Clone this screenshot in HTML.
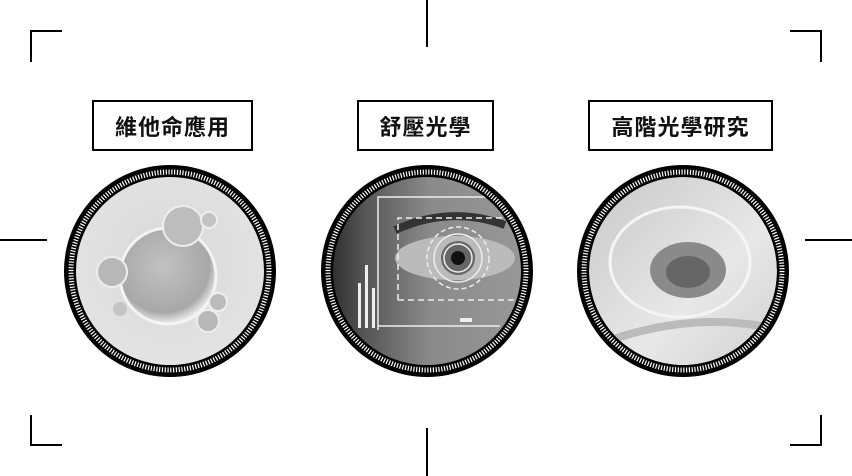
<!DOCTYPE html>
<html><head><meta charset="utf-8"><style>
html,body{margin:0;padding:0;background:#fff;}
body{width:852px;height:476px;overflow:hidden;position:relative;font-family:"Liberation Sans","Noto Sans CJK TC",sans-serif;}
.box{position:absolute;top:100px;height:47px;border:2px solid #000;box-sizing:content-box;display:flex;align-items:center;justify-content:center;font-weight:bold;font-size:22px;letter-spacing:1px;color:#111;}
</style></head><body>
<svg width="852" height="476" style="position:absolute;left:0;top:0">
<defs>
<radialGradient id="g1" cx="50%" cy="45%" r="60%"><stop offset="0" stop-color="#d8d8d8"/><stop offset="1" stop-color="#e4e4e4"/></radialGradient>
<radialGradient id="b1" cx="45%" cy="40%" r="60%"><stop offset="0" stop-color="#c2c2c2"/><stop offset="0.8" stop-color="#a8a8a8"/><stop offset="1" stop-color="#eee"/></radialGradient>
<linearGradient id="g2" x1="0" x2="1"><stop offset="0" stop-color="#222"/><stop offset="0.2" stop-color="#555"/><stop offset="0.5" stop-color="#8a8a8a"/><stop offset="1" stop-color="#9a9a9a"/></linearGradient>
<linearGradient id="g3" x1="0" y1="0" x2="1" y2="1"><stop offset="0" stop-color="#c8c8c8"/><stop offset="0.6" stop-color="#e8e8e8"/><stop offset="1" stop-color="#d0d0d0"/></linearGradient>
<clipPath id="c2"><circle cx="427" cy="271" r="94"/></clipPath>
<clipPath id="c3"><circle cx="683" cy="271" r="94"/></clipPath>
</defs>
<g stroke="#000" stroke-width="2" fill="none">
<path d="M31 62V31H62"/><path d="M31 415V445H62"/><path d="M790 31H821V62"/><path d="M790 445H821V415"/>
<path d="M427 0V47"/><path d="M427 428V476"/><path d="M0 240H47"/><path d="M805 240H852"/>
</g>
<!-- circle 1 -->
<circle cx="170" cy="271" r="106" fill="#000"/>
<circle cx="170" cy="271" r="99" fill="none" stroke="#fff" stroke-width="5" stroke-dasharray="1.2 1.6"/>
<circle cx="170" cy="271" r="94" fill="url(#g1)"/>
<circle cx="168" cy="276" r="48" fill="url(#b1)" stroke="#f4f4f4" stroke-width="3"/>
<circle cx="183" cy="226" r="20" fill="#bdbdbd" stroke="#eee" stroke-width="2"/>
<circle cx="112" cy="272" r="15" fill="#b8b8b8" stroke="#eee" stroke-width="2"/>
<circle cx="209" cy="220" r="8" fill="#c4c4c4" stroke="#eee" stroke-width="2"/>
<circle cx="208" cy="321" r="11" fill="#b8b8b8" stroke="#eee" stroke-width="2"/>
<circle cx="218" cy="302" r="9" fill="#bcbcbc" stroke="#eee" stroke-width="2"/>
<circle cx="120" cy="309" r="7" fill="#c4c4c4"/>
<!-- circle 2 -->
<circle cx="427" cy="271" r="106" fill="#000"/>
<circle cx="427" cy="271" r="99" fill="none" stroke="#fff" stroke-width="5" stroke-dasharray="1.2 1.6"/>
<g clip-path="url(#c2)">
<rect x="320" y="170" width="220" height="210" fill="url(#g2)"/>
<ellipse cx="455" cy="258" rx="60" ry="22" fill="#bbb"/>
<path d="M395 230 Q450 205 505 225" stroke="#333" stroke-width="8" fill="none"/>
<circle cx="458" cy="258" r="17" fill="#666"/><circle cx="458" cy="258" r="7" fill="#111"/>
<g stroke="#eee" fill="none" stroke-width="1.5">
<path d="M378 330V197H510"/><path d="M398 300V218H520" stroke-dasharray="6 4"/><path d="M398 300H520" stroke-dasharray="6 4"/>
<circle cx="458" cy="258" r="31" stroke-dasharray="5 3"/><circle cx="458" cy="258" r="24"/><circle cx="458" cy="258" r="14"/>
<path d="M378 326H500"/>
</g>
<g fill="#eee"><rect x="358" y="283" width="3" height="45"/><rect x="365" y="265" width="3" height="63"/><rect x="372" y="288" width="3" height="40"/><rect x="460" y="318" width="12" height="4"/></g>
</g>
<!-- circle 3 -->
<circle cx="683" cy="271" r="106" fill="#000"/>
<circle cx="683" cy="271" r="99" fill="none" stroke="#fff" stroke-width="5" stroke-dasharray="1.2 1.6"/>
<g clip-path="url(#c3)">
<circle cx="683" cy="271" r="94" fill="url(#g3)"/>
<ellipse cx="680" cy="262" rx="70" ry="55" fill="none" stroke="#f5f5f5" stroke-width="3"/>
<ellipse cx="688" cy="270" rx="38" ry="28" fill="#8a8a8a"/>
<ellipse cx="688" cy="272" rx="22" ry="16" fill="#666"/>
<path d="M610 340 Q700 310 780 330" stroke="#bbb" stroke-width="8" fill="none"/>
</g>
</svg>
<div class="box" style="left:92px;width:157px;">維他命應用</div>
<div class="box" style="left:357px;width:133px;">舒壓光學</div>
<div class="box" style="left:588px;width:181px;">高階光學研究</div>
</body></html>
